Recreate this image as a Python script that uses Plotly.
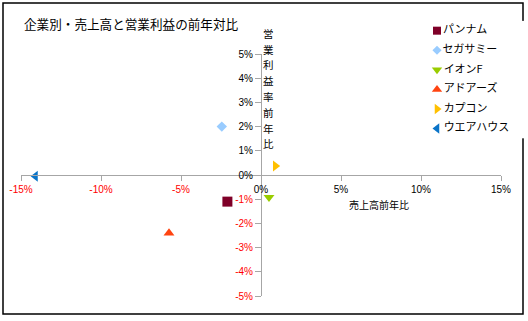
import plotly.graph_objects as go

W, H = 528, 321

title_text = "企業別・売上高と営業利益の前年対比"
x_title = "売上高前年比"
y_title = "営業利益率前年比"

companies = ["パンナム", "セガサミー", "イオンF", "アドアーズ", "カプコン", "ウエアハウス"]
sales_yoy = [-2.1, -2.45, 0.5, -5.75, 0.9, -14.1]      # % (x)
profit_yoy = [-1.1, 2.0, -0.92, -2.4, 0.37, -0.05]     # % (y)
symbols = ["square", "diamond", "triangle-down", "triangle-up", "triangle-right", "triangle-left"]
colors = ["#7F0028", "#99CCFF", "#99CC00", "#FF4411", "#FFC000", "#0A74C8"]
sizes = [10, 8, 9.5, 9.5, 9.5, 9.5]
legend_sizes = [8, 7, 9, 9, 9, 9]

x_ticks = [-15, -10, -5, 0, 5, 10, 15]
y_ticks = [-5, -4, -3, -2, -1, 0, 1, 2, 3, 4, 5]


def tick_label(v):
    if v < 0:
        return '<span style="color:#FF0000">-%d%%</span>' % abs(v)
    return "%d%%" % v


fig = go.Figure()

for name, xv, yv, sym, col, sz in zip(companies, sales_yoy, profit_yoy, symbols, colors, sizes):
    fig.add_trace(go.Scatter(
        x=[xv], y=[yv], mode="markers", name=name, showlegend=False,
        marker=dict(symbol=sym, color=col, size=sz, line=dict(width=0)),
        xaxis="x", yaxis="y", cliponaxis=False,
    ))

# custom legend (markers with adjacent text)
for i, (name, sym, col, sz) in enumerate(zip(companies, symbols, colors, legend_sizes)):
    fig.add_trace(go.Scatter(
        x=[0], y=[i], mode="markers+text", text=[name], textposition="middle right",
        textfont=dict(family="Noto Sans CJK JP", size=11, color="#000000"),
        marker=dict(symbol=sym, color=col, size=sz, line=dict(width=0)),
        showlegend=False, xaxis="x2", yaxis="y2", cliponaxis=False, hoverinfo="skip",
    ))

axis_font = dict(family="Liberation Sans, Arial", size=10, color="#000000")

fig.update_layout(
    width=W, height=H,
    margin=dict(l=0, r=0, t=0, b=0, pad=0, autoexpand=False),
    paper_bgcolor="white", plot_bgcolor="white",
    showlegend=False,
    xaxis=dict(
        domain=[21 / W, 501 / W], range=[-15, 15], anchor="free", position=1 - 175 / H,
        showline=True, linecolor="#A6A6A6", linewidth=1,
        ticks="outside", ticklen=5, tickcolor="#A6A6A6", tickwidth=1,
        tickvals=x_ticks, ticktext=[tick_label(v) for v in x_ticks],
        tickfont=axis_font, showgrid=False, zeroline=False, automargin=False,
    ),
    yaxis=dict(
        domain=[1 - 296 / H, 1 - 54 / H], range=[-5, 5], anchor="free", position=261 / W,
        showline=True, linecolor="#A6A6A6", linewidth=1,
        ticks="outside", ticklen=6, tickcolor="#A6A6A6", tickwidth=1,
        tickvals=y_ticks, ticktext=[tick_label(v) for v in y_ticks],
        tickfont=axis_font, showgrid=False, zeroline=False, automargin=False,
    ),
    xaxis2=dict(domain=[437 / W, 1], range=[0, 1], visible=False, fixedrange=True),
    yaxis2=dict(domain=[1 - 138.3 / H, 1 - 20.9 / H], range=[5.5, -0.5], visible=False,
                anchor="x2", fixedrange=True),
    shapes=[dict(type="rect", xref="paper", yref="paper",
                 x0=3 / W, x1=523 / W, y0=1 - 314 / H, y1=1 - 3 / H,
                 line=dict(color="#000000", width=1.5), fillcolor="rgba(0,0,0,0)", layer="below")],
)

annotations = [
    dict(text=title_text, x=22 / W, y=1 - 23 / H, xref="paper", yref="paper",
         xanchor="left", yanchor="middle", showarrow=False,
         font=dict(family="Noto Sans CJK JP", size=12.6, color="#000000")),
    dict(text=x_title, x=379 / W, y=1 - 204.5 / H, xref="paper", yref="paper",
         xanchor="center", yanchor="middle", showarrow=False,
         font=dict(family="Noto Sans CJK JP", size=10, color="#000000")),
]
for k, ch in enumerate(y_title):
    annotations.append(dict(
        text=ch, x=268.5 / W, y=1 - (33.3 + 15.8 * k) / H, xref="paper", yref="paper",
        xanchor="center", yanchor="middle", showarrow=False,
        font=dict(family="Noto Sans CJK JP", size=10.5, color="#000000")))
fig.update_layout(annotations=annotations)

fig.write_html("out.html")
